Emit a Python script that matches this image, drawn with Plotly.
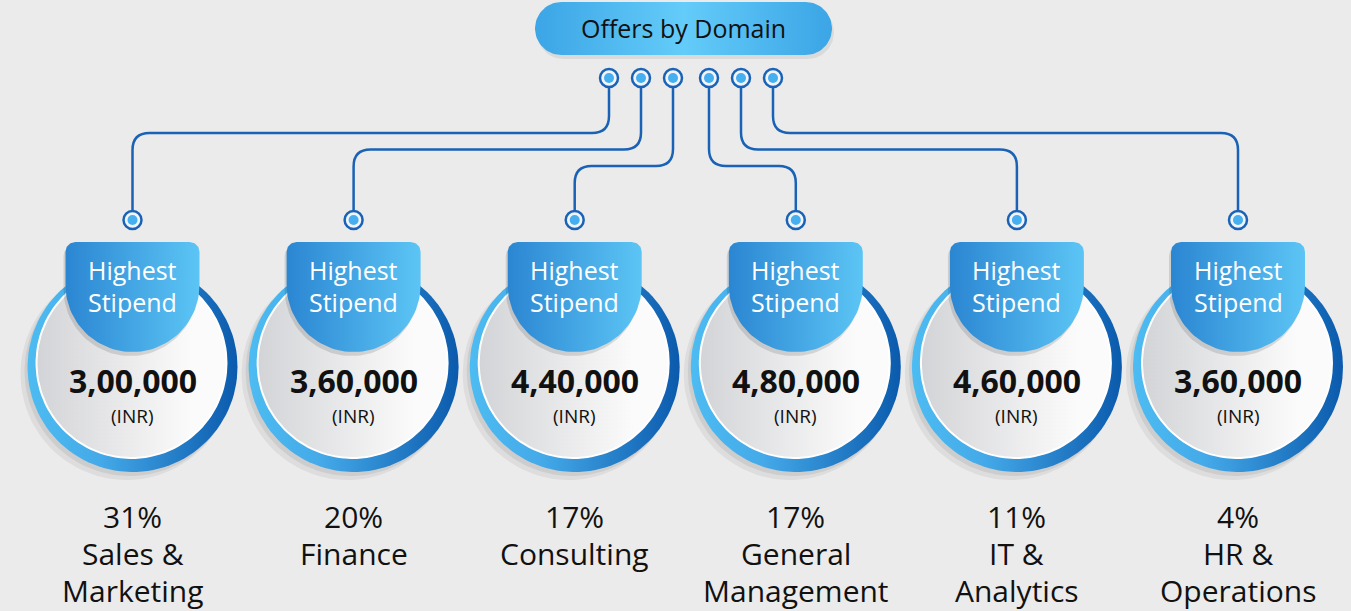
import numpy as np
import plotly.graph_objects as go

# data
domains = [["Sales &", "Marketing"], ["Finance"], ["Consulting"],
           ["General", "Management"], ["IT &", "Analytics"], ["HR &", "Operations"]]
shares = [31, 20, 17, 17, 11, 4]
stipends = [300000, 360000, 440000, 480000, 460000, 360000]
title = "Offers by Domain"

W, H = 1351, 611
FONT = "Open Sans"
DARK = "#1a62b6"


def inr(n):
    s = str(n)
    head, tail = s[:-3], s[-3:]
    parts = []
    while len(head) > 2:
        parts.insert(0, head[-2:])
        head = head[:-2]
    if head:
        parts.insert(0, head)
    return ",".join(parts + [tail])


def circle_xy(cx, cy, r, n=120):
    t = np.linspace(0, 2 * np.pi, n)
    return cx + r * np.cos(t), cy + r * np.sin(t)


def tab_xy(cx, top, half, mid, rc=10):
    # flat top with rounded corners, straight sides, round bottom
    xs, ys = [], []
    a = np.linspace(np.pi, 1.5 * np.pi, 12)
    xs += list(cx - half + rc + rc * np.cos(a)); ys += list(top + rc + rc * np.sin(a))
    a = np.linspace(1.5 * np.pi, 2 * np.pi, 12)
    xs += list(cx + half - rc + rc * np.cos(a)); ys += list(top + rc + rc * np.sin(a))
    a = np.linspace(0, np.pi, 60)
    xs += list(cx + half * np.cos(a)); ys += list(mid + half * np.sin(a))
    xs.append(xs[0]); ys.append(ys[0])
    return np.array(xs), np.array(ys)


def pill_xy(x0, x1, y0, y1):
    r = (y1 - y0) / 2
    cy = (y0 + y1) / 2
    a = np.linspace(-0.5 * np.pi, 0.5 * np.pi, 40)
    xs = list(x1 - r + r * np.cos(a)); ys = list(cy + r * np.sin(a))
    a = np.linspace(0.5 * np.pi, 1.5 * np.pi, 40)
    xs += list(x0 + r + r * np.cos(a)); ys += list(cy + r * np.sin(a))
    xs.append(xs[0]); ys.append(ys[0])
    return np.array(xs), np.array(ys)


def poly(fig, x, y, color=None, grad=None, line=None):
    kw = dict(x=x, y=y, mode="lines", fill="toself", hoverinfo="skip",
              showlegend=False, line=line or dict(width=0, color="rgba(0,0,0,0)"))
    if grad:
        kw["fillgradient"] = dict(type="horizontal", colorscale=grad[0],
                                  start=grad[1], stop=grad[2])
    else:
        kw["fillcolor"] = color
    fig.add_trace(go.Scatter(**kw))


def text(x, y, s, size, color="#111111", **kw):
    annotations.append(dict(x=x, y=y, xref="x", yref="y", text=s, showarrow=False,
                            font=dict(family=FONT, size=size, color=color), **kw))


fig = go.Figure()
shapes, annotations = [], []

n = len(domains)
cxs = [132.5 + 221.1 * i for i in range(n)]
cy = 367

# title pill
px, py = pill_xy(535, 832, 2, 55)
poly(fig, px + 2, py + 4, color="rgba(0,0,0,0.07)")
poly(fig, px, py, grad=([[0, "#3ba5e6"], [0.5, "#64ccf9"], [1, "#3ba5e6"]], 535, 832))
text(683, 28, title, 25)

for i, cx in enumerate(cxs):
    # soft shadow
    sx, sy = circle_xy(cx - 6, cy + 7, 106)
    poly(fig, sx, sy, color="rgba(0,0,0,0.06)")
    sx, sy = circle_xy(cx - 3, cy + 4, 105)
    poly(fig, sx, sy, color="rgba(0,0,0,0.07)")
    # ring
    rx, ry = circle_xy(cx, cy, 105)
    poly(fig, rx, ry, grad=([[0, "#4dbcf2"], [0.35, "#44a9e8"], [1, "#0b5aad"]], cx - 105, cx + 105))
    # inner disc
    ix, iy = circle_xy(cx - 1, cy - 4, 95)
    poly(fig, ix, iy, grad=([[0, "#d3d4d7"], [1, "#fbfbfb"]], cx - 95, cx + 60),
         line=dict(width=2, color="#ffffff"))
    # tab
    tx, ty = tab_xy(cx, 242, 67, 285)
    poly(fig, tx - 2, ty + 4, color="rgba(0,0,0,0.12)")
    poly(fig, tx, ty, grad=([[0, "#2b86d2"], [1, "#5cc5f5"]], cx - 67, cx + 67))

    text(cx, 270, "Highest", 25, "#ffffff")
    text(cx, 302, "Stipend", 25, "#ffffff")
    text(cx, 380, "<b>" + inr(stipends[i]) + "</b>", 32)
    text(cx, 416, "(INR)", 19)
    lines = [f"{shares[i]}%"] + domains[i]
    for k, s in enumerate(lines):
        text(cx, 516 + 37 * k, s, 30)

# connectors from title to circles
half = n // 2
tops = [609 + 32 * k for k in range(half)] + [709 + 32 * k for k in range(half)]
levels = [133 + 16.5 * k for k in range(half)] + [166 - 16.5 * k for k in range(half)]
r = 17
top_y, bot_y = 78, 220
for i in range(n):
    tx, bx, lv = tops[i], cxs[i], levels[i]
    sgn = -1 if bx < tx else 1
    path = (f"M {tx},{top_y + 9} V {lv - r} Q {tx},{lv} {tx + sgn * r},{lv} "
            f"H {bx - sgn * r} Q {bx},{lv} {bx},{lv + r} V {bot_y - 9}")
    shapes.append(dict(type="path", path=path, xref="x", yref="y",
                       line=dict(color=DARK, width=2.5)))
    for (dx, dy) in [(tx, top_y), (bx, bot_y)]:
        shapes.append(dict(type="circle", xref="x", yref="y", x0=dx - 9, x1=dx + 9,
                           y0=dy - 9, y1=dy + 9, fillcolor="#f1f4f8",
                           line=dict(color=DARK, width=2.5)))
        shapes.append(dict(type="circle", xref="x", yref="y", x0=dx - 5, x1=dx + 5,
                           y0=dy - 5, y1=dy + 5, fillcolor="#46afef",
                           line=dict(width=0)))

fig.update_layout(
    width=W, height=H,
    margin=dict(l=0, r=0, t=0, b=0),
    paper_bgcolor="#ebebeb", plot_bgcolor="#ebebeb",
    xaxis=dict(range=[0, W], visible=False, fixedrange=True),
    yaxis=dict(range=[H, 0], visible=False, fixedrange=True),
    shapes=shapes, annotations=annotations,
    showlegend=False,
)

fig.write_html("out.html", config=dict(displayModeBar=False),
               post_script="document.body.style.margin='0';document.body.style.overflow='hidden';")
